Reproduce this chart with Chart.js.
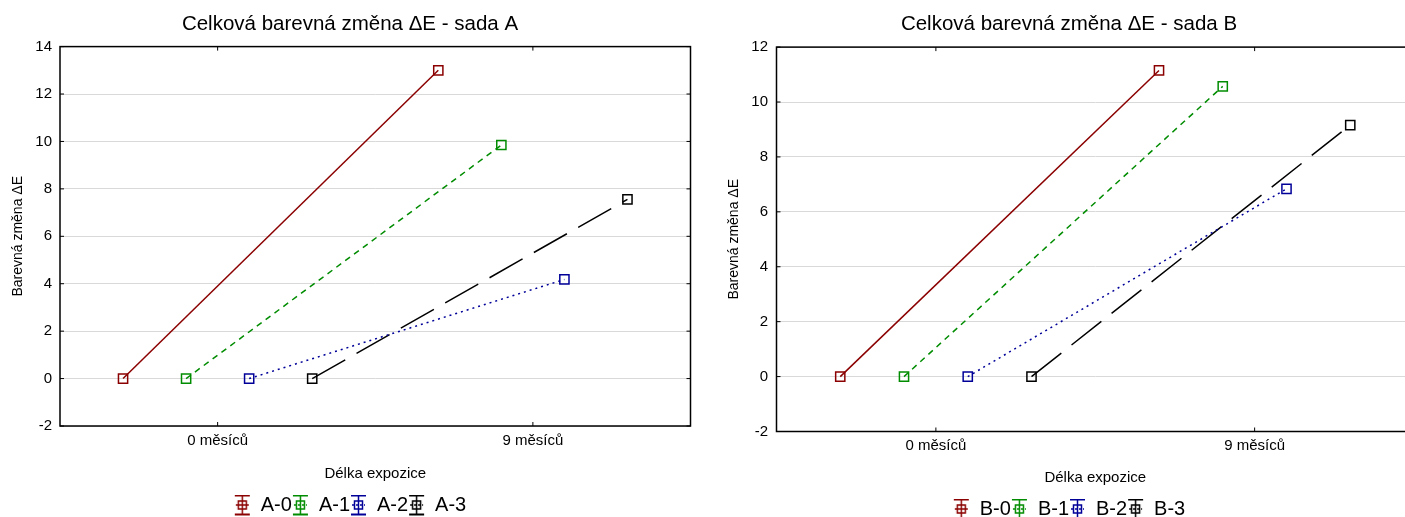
<!DOCTYPE html>
<html>
<head>
<meta charset="utf-8">
<script src="https://cdn.jsdelivr.net/npm/chart.js@4"></script>
<style>
  html, body { margin: 0; padding: 0; background: #fff; overflow: hidden; }
  .panel { position: absolute; top: 0; }
</style>
</head>
<body>
<div class="panel" style="left:0"><canvas id="chartA" width="700" height="517"></canvas></div>
<div class="panel" style="left:700px"><canvas id="chartB" width="740" height="517"></canvas></div>
<script>
const categories = ['0 měsíců', '9 měsíců'];

const namesA = ['A-0', 'A-1', 'A-2', 'A-3'];
const seriesA0 = [0, 13.0];
const seriesA1 = [0, 9.85];
const seriesA2 = [0, 4.18];
const seriesA3 = [0, 7.56];
const ticksA = [-2, 0, 2, 4, 6, 8, 10, 12, 14];

const namesB = ['B-0', 'B-1', 'B-2', 'B-3'];
const seriesB0 = [0, 11.15];
const seriesB1 = [0, 10.57];
const seriesB2 = [0, 6.84];
const seriesB3 = [0, 9.16];
const ticksB = [-2, 0, 2, 4, 6, 8, 10, 12];

const colors = ['#8b0000', '#008c00', '#000099', '#000000'];
const dashes = [[], [6, 5], [2, 4], [38, 13]];

Chart.defaults.font.family = "Arial, 'Liberation Sans', sans-serif";
Chart.defaults.color = '#000';

// legend symbol: error-bar style glyph with the square marker
function makeGlyph(color, dash) {
    const c = document.createElement('canvas');
    c.width = 17;
    c.height = 22;
    const g = c.getContext('2d');
    g.strokeStyle = color;
    g.lineWidth = 2;
    g.beginPath();
    g.moveTo(1, 1.5); g.lineTo(16, 1.5);
    g.moveTo(1, 20.5); g.lineTo(16, 20.5);
    g.stroke();
    g.lineWidth = 1.5;
    g.beginPath();
    g.moveTo(8.5, 1.5); g.lineTo(8.5, 20.5);
    g.stroke();
    g.strokeRect(4.5, 7, 8, 8);
    g.setLineDash(dash.length ? [2, 2] : []);
    g.beginPath();
    g.moveTo(2, 11); g.lineTo(15, 11);
    g.stroke();
    return c;
}

const framePlugin = {
    id: 'frame',
    afterDatasetsDraw(chart) {
        const {ctx, chartArea: a, scales} = chart;
        ctx.save();
        ctx.strokeStyle = '#000';
        ctx.lineWidth = 1.5;
        ctx.strokeRect(a.left, a.top, a.right - a.left, a.bottom - a.top);
        ctx.lineWidth = 1;
        ctx.beginPath();
        scales.y.ticks.forEach(t => {
            const y = scales.y.getPixelForValue(t.value);
            ctx.moveTo(a.left, y); ctx.lineTo(a.left + 4, y);
            ctx.moveTo(a.right, y); ctx.lineTo(a.right - 4, y);
        });
        scales.x.ticks.forEach(t => {
            const x = scales.x.getPixelForValue(t.value);
            ctx.moveTo(x, a.bottom); ctx.lineTo(x, a.bottom - 4);
            ctx.moveTo(x, a.top); ctx.lineTo(x, a.top + 4);
        });
        ctx.stroke();
        ctx.restore();
    }
};

function createChart(canvasId, titleText, names, series, yTicks, lay) {
    const glyphs = names.map((n, i) => makeGlyph(colors[i], dashes[i]));
    const datasets = names.map((name, k) => ({
        label: name,
        data: series[k].map((v, i) => ({x: i + (k - 1.5) * 0.2, y: v})),
        borderColor: colors[k],
        borderWidth: 1.5,
        borderDash: dashes[k],
        pointStyle: 'rect',
        pointRadius: 6.5,
        pointBorderWidth: 1.5,
        pointBorderColor: colors[k],
        pointBackgroundColor: 'rgba(0,0,0,0)',
        tension: 0
    }));

    new Chart(document.getElementById(canvasId), {
        type: 'line',
        data: {datasets: datasets},
        plugins: [framePlugin],
        options: {
            responsive: false,
            animation: false,
            events: [],
            layout: {padding: lay.padding},
            plugins: {
                title: {
                    display: true,
                    text: titleText,
                    color: '#000',
                    font: {size: 20.5, weight: 'normal'},
                    padding: lay.titlePadding
                },
                legend: {
                    position: 'bottom',
                    labels: {
                        usePointStyle: true,
                        pointStyleWidth: 17,
                        boxHeight: 20,
                        padding: 0,
                        color: '#000',
                        font: {size: 20},
                        generateLabels(chart) {
                            return chart.data.datasets.map((ds, i) => ({
                                text: ds.label,
                                pointStyle: glyphs[i],
                                fillStyle: colors[i],
                                strokeStyle: colors[i],
                                lineWidth: 0,
                                hidden: false,
                                datasetIndex: i
                            }));
                        }
                    }
                },
                tooltip: {enabled: false}
            },
            scales: {
                x: {
                    type: 'linear',
                    min: -0.5,
                    max: 1.5,
                    afterBuildTicks(scale) {
                        scale.ticks = categories.map((c, i) => ({value: i}));
                    },
                    ticks: {
                        padding: lay.xTickPad,
                        font: {size: 15},
                        color: '#000',
                        maxRotation: 0,
                        callback: value => categories[value]
                    },
                    grid: {display: false, drawTicks: false},
                    border: {display: false},
                    title: {
                        display: true,
                        text: 'Délka expozice',
                        font: {size: 15},
                        color: '#000',
                        padding: lay.xTitlePadding
                    }
                },
                y: {
                    min: yTicks[0],
                    max: yTicks[yTicks.length - 1],
                    afterBuildTicks(scale) {
                        scale.ticks = yTicks.map(v => ({value: v}));
                    },
                    afterFit(scale) {
                        scale.width = lay.yWidth;
                    },
                    ticks: {
                        padding: lay.yTickPad,
                        font: {size: 15},
                        color: '#000'
                    },
                    grid: {color: '#d9d9d9', lineWidth: 1, drawTicks: false},
                    border: {display: false},
                    title: {
                        display: true,
                        text: 'Barevná změna ΔE',
                        font: {size: 14},
                        color: '#000',
                        padding: lay.yTitlePadding
                    }
                }
            }
        }
    });
}

createChart('chartA', 'Celková barevná změna ΔE - sada A', namesA,
    [seriesA0, seriesA1, seriesA2, seriesA3], ticksA, {
        padding: {left: 9.5, right: 9.5, top: 0, bottom: -8},
        titlePadding: {top: 12, bottom: 10},
        xTickPad: 5.5,
        xTitlePadding: {top: 10, bottom: 12},
        yWidth: 50.5,
        yTickPad: 8,
        yTitlePadding: {top: 0, bottom: 0}
    });

createChart('chartB', 'Celková barevná změna ΔE - sada B', namesB,
    [seriesB0, seriesB1, seriesB2, seriesB3], ticksB, {
        padding: {left: 24, right: 26, top: 0, bottom: -12},
        titlePadding: {top: 12, bottom: 10.5},
        xTickPad: 5.5,
        xTitlePadding: {top: 8.5, bottom: 12},
        yWidth: 52.5,
        yTickPad: 8.5,
        yTitlePadding: {top: 2, bottom: 0}
    });
</script>
</body>
</html>
